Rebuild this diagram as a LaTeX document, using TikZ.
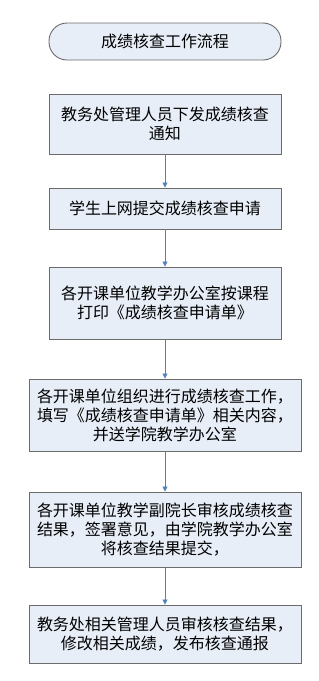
\documentclass[tikz,border=0pt]{standalone}
\usepackage{fontspec}
\setmainfont{Noto Sans CJK SC}
\usepackage{tikz}
\usetikzlibrary{arrows.meta, positioning}
\usepackage{xcolor}
\definecolor{flowblue}{HTML}{4F81BD}
\definecolor{boxfill}{HTML}{E8EEF8}
\definecolor{boxline}{HTML}{6B6B6B}
\tikzset{
  stepbox/.style={
    rectangle, draw=boxline, fill=boxfill, line width=0.9pt,
    minimum width=#1, inner sep=2pt,
    font=\fontsize{16}{19}\selectfont, align=center
  },
  stepbox/.default=232pt,
  startbox/.style={
    stepbox, rounded corners=18pt, minimum height=37pt
  },
  arrow/.style={-{Triangle[length=5pt, width=5pt]}, draw=flowblue, fill=flowblue, line width=0.8pt},
}

\begin{document}
\begin{tikzpicture}[x=1pt, y=-1pt]
\useasboundingbox (0,0) rectangle (319,681);

% title
\node[startbox] (title) at (165, 41.5) {成绩核查工作流程};

% steps
\node[stepbox, minimum height=60pt] (notice) at (165, 124) {教务处管理人员下发成绩核查\\通知};
\node[stepbox, minimum height=41pt] (apply) at (165, 208.5) {学生上网提交成绩核查申请};
\node[stepbox, minimum height=72pt] (print) at (165, 303) {各开课单位教学办公室按课程\\打印《成绩核查申请单》};
\node[stepbox=272pt, minimum height=72pt] (check) at (165, 415) {各开课单位组织进行成绩核查工作，\\填写《成绩核查申请单》相关内容，\\并送学院教学办公室};
\node[stepbox=272pt, minimum height=75pt] (review) at (165, 529.5) {各开课单位教学副院长审核成绩核查\\结果，签署意见，由学院教学办公室\\将核查结果提交，};
\node[stepbox=272pt, minimum height=58pt] (publish) at (165, 634) {教务处相关管理人员审核核查结果，\\修改相关成绩，发布核查通报};

% connectors
\draw[arrow] (notice) -- (apply);
\draw[arrow] (apply) -- (print);
\draw[arrow] (print) -- (check);
\draw[arrow] (check) -- (review);
\draw[arrow] (review) -- (publish);

\end{tikzpicture}
\end{document}
